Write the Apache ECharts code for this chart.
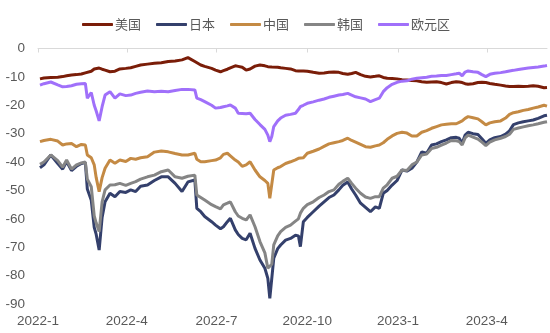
<!DOCTYPE html>
<html>
<head>
<meta charset="utf-8">
<script src="https://cdn.jsdelivr.net/npm/echarts@6/dist/echarts.min.js"></script>
<style>
  html, body { margin: 0; padding: 0; background: #fff; }
  #chart { width: 550px; height: 333px; }
</style>
</head>
<body>
<div id="chart"></div>
<script>
// Observation dates (roughly weekly, denser around sharp moves)
const dates = [
  '2022-01-03','2022-01-07','2022-01-14','2022-01-21','2022-01-26','2022-01-30','2022-02-04','2022-02-09',
  '2022-02-14','2022-02-18','2022-02-20','2022-02-24','2022-02-27','2022-03-01','2022-03-04','2022-03-07',
  '2022-03-10','2022-03-15','2022-03-20','2022-03-25','2022-03-31','2022-04-05','2022-04-10','2022-04-15',
  '2022-04-22','2022-04-29','2022-05-06','2022-05-13','2022-05-20','2022-05-27','2022-06-02','2022-06-09',
  '2022-06-11','2022-06-15','2022-06-19','2022-06-26','2022-06-30','2022-07-05','2022-07-08','2022-07-12',
  '2022-07-15','2022-07-20','2022-07-23','2022-07-27','2022-07-31','2022-08-04','2022-08-09','2022-08-14',
  '2022-08-19','2022-08-22','2022-08-24','2022-08-26','2022-08-28','2022-09-01','2022-09-04','2022-09-09',
  '2022-09-14','2022-09-19','2022-09-22','2022-09-24','2022-09-27','2022-10-01','2022-10-07','2022-10-13',
  '2022-10-18','2022-10-23','2022-10-28','2022-11-02','2022-11-06','2022-11-11','2022-11-15','2022-11-19',
  '2022-11-24','2022-11-29','2022-12-04','2022-12-09','2022-12-13','2022-12-17','2022-12-21','2022-12-26',
  '2022-12-31','2023-01-05','2023-01-10','2023-01-15','2023-01-20','2023-01-25','2023-01-30','2023-02-04',
  '2023-02-09','2023-02-14','2023-02-19','2023-02-24','2023-03-01','2023-03-04','2023-03-07','2023-03-10',
  '2023-03-13','2023-03-18','2023-03-23','2023-03-27','2023-03-31','2023-04-04','2023-04-09','2023-04-15',
  '2023-04-20','2023-04-24','2023-04-28','2023-05-03','2023-05-08','2023-05-13','2023-05-18','2023-05-23',
  '2023-05-29','2023-06-01'
];

const usa = [
  -10.7,-10.4,-10.2,-10.1,-9.9,-9.6,-9.3,-9.2,
  -9.0,-8.6,-8.4,-8.0,-7.2,-6.8,-6.9,-7.3,
  -7.6,-8.2,-8.0,-7.2,-7.0,-6.8,-6.3,-5.8,
  -5.5,-5.2,-5.0,-4.6,-4.4,-4.0,-3.2,-4.6,
  -5.0,-5.8,-6.3,-7.0,-7.6,-8.2,-7.8,-7.3,
  -6.8,-6.1,-6.3,-6.6,-7.6,-7.2,-6.2,-5.8,
  -6.1,-6.4,-6.4,-6.5,-6.4,-6.6,-6.8,-7.0,
  -7.2,-7.8,-7.9,-7.9,-7.9,-8.0,-8.4,-8.7,
  -8.6,-8.4,-8.3,-8.4,-8.8,-9.1,-8.8,-8.4,
  -9.2,-9.8,-10.0,-9.8,-9.6,-10.2,-10.5,-10.6,
  -10.7,-11.0,-11.1,-11.3,-11.4,-11.7,-11.9,-11.8,
  -11.7,-12.0,-12.5,-12.0,-11.7,-11.8,-12.0,-12.4,
  -12.6,-12.4,-12.0,-11.9,-12.0,-12.3,-12.6,-12.9,
  -13.2,-13.4,-13.4,-13.3,-13.4,-13.3,-13.1,-13.3,
  -13.8,-13.7
];

const japan = [
  -42.0,-41.0,-37.5,-40.5,-42.5,-39.8,-43.0,-41.5,
  -40.5,-40.2,-49.5,-53.5,-63.0,-65.5,-71.0,-59.5,
  -54.0,-51.0,-52.2,-50.4,-50.7,-49.8,-50.4,-48.5,
  -48.1,-46.5,-45.2,-45.2,-47.5,-50.4,-47.0,-46.3,
  -56.3,-57.5,-59.2,-61.0,-62.2,-63.5,-62.8,-61.0,
  -59.8,-63.9,-65.5,-66.9,-67.4,-65.1,-70.4,-74.5,
  -77.4,-81.0,-88.0,-87.5,-73.9,-70.5,-69.2,-67.5,
  -66.9,-65.8,-66.0,-69.8,-61.0,-59.5,-57.5,-55.5,
  -54.0,-52.5,-51.6,-49.8,-48.2,-47.0,-49.5,-51.6,
  -54.5,-56.0,-57.5,-55.8,-56.3,-51.0,-50.0,-48.1,
  -46.5,-42.8,-43.2,-42.2,-40.0,-36.4,-36.9,-34.0,
  -33.6,-32.8,-32.2,-31.4,-31.3,-31.6,-33.4,-30.5,
  -29.5,-30.0,-30.3,-31.8,-33.4,-32.2,-31.4,-31.0,
  -30.2,-29.0,-26.8,-26.2,-25.8,-25.5,-25.2,-24.6,
  -23.7,-23.5
];

const china = [
  -32.8,-32.4,-32.0,-32.6,-34.0,-33.6,-33.5,-34.6,
  -33.8,-34.0,-37.5,-38.5,-41.0,-45.5,-50.4,-45.5,
  -42.2,-39.3,-40.4,-39.3,-39.8,-38.7,-39.0,-38.5,
  -38.1,-36.5,-36.1,-36.4,-37.0,-37.5,-37.5,-36.9,
  -39.0,-39.9,-39.9,-39.5,-39.3,-38.5,-37.3,-36.9,
  -37.8,-39.3,-40.0,-41.5,-41.0,-39.9,-42.8,-45.2,
  -46.5,-47.5,-52.8,-52.5,-42.8,-42.0,-41.6,-40.5,
  -39.9,-39.2,-38.7,-39.0,-38.5,-36.9,-36.2,-35.4,
  -34.5,-33.6,-33.2,-32.8,-32.4,-31.6,-32.4,-33.0,
  -33.8,-34.6,-34.8,-34.3,-34.0,-33.2,-32.0,-30.8,
  -29.9,-29.5,-29.8,-30.8,-30.8,-29.5,-28.9,-28.1,
  -27.5,-26.9,-26.7,-26.5,-26.5,-26.0,-25.5,-24.6,
  -24.0,-24.4,-24.8,-25.8,-26.9,-26.2,-25.8,-25.5,
  -24.5,-23.2,-22.6,-22.3,-21.8,-21.5,-21.0,-20.6,
  -20.0,-20.3
];

const korea = [
  -40.8,-40.0,-37.5,-39.5,-41.8,-39.3,-42.5,-41.0,
  -40.3,-40.0,-46.0,-48.7,-59.0,-61.5,-64.5,-54.0,
  -49.8,-48.1,-48.0,-47.5,-48.2,-47.5,-46.9,-46.0,
  -45.2,-44.6,-43.4,-42.8,-45.2,-45.7,-45.0,-44.6,
  -51.6,-52.5,-53.4,-55.0,-55.7,-56.5,-55.1,-54.5,
  -54.0,-57.5,-59.0,-59.8,-60.4,-58.6,-62.8,-68.0,
  -72.0,-77.4,-77.4,-76.0,-69.2,-66.0,-64.5,-63.0,
  -62.2,-60.8,-60.0,-58.0,-56.3,-55.0,-54.0,-52.5,
  -51.6,-50.4,-49.8,-47.8,-46.8,-45.7,-47.5,-49.2,
  -51.0,-52.3,-52.8,-52.2,-52.2,-49.2,-48.0,-45.7,
  -45.0,-42.8,-43.0,-41.0,-40.0,-37.5,-37.2,-35.2,
  -34.8,-34.0,-33.3,-32.4,-32.5,-32.8,-34.0,-31.5,
  -30.5,-31.2,-31.9,-33.0,-34.2,-33.0,-32.2,-31.6,
  -31.0,-30.2,-28.5,-28.0,-27.6,-27.2,-26.9,-26.5,
  -26.0,-25.8
];

const euro = [
  -12.9,-12.4,-11.8,-12.8,-13.5,-13.4,-13.1,-12.6,
  -12.4,-12.3,-17.5,-15.5,-20.0,-22.0,-25.5,-20.5,
  -16.4,-15.2,-17.5,-16.0,-16.6,-16.4,-15.8,-15.4,
  -15.0,-15.2,-15.1,-15.2,-14.8,-14.4,-14.4,-14.6,
  -17.5,-18.0,-18.7,-20.0,-21.0,-20.8,-20.5,-20.2,
  -19.9,-21.0,-22.8,-22.9,-23.0,-22.8,-25.0,-26.8,
  -28.5,-30.5,-32.8,-31.0,-27.5,-25.5,-24.5,-23.5,
  -23.2,-22.8,-21.5,-20.5,-20.0,-19.3,-18.8,-18.2,
  -17.8,-17.2,-16.8,-16.4,-16.2,-15.8,-16.4,-17.0,
  -17.4,-17.8,-18.7,-18.0,-17.5,-15.2,-13.8,-12.6,
  -11.9,-11.5,-11.4,-10.8,-10.5,-10.3,-10.1,-9.8,
  -9.7,-9.5,-9.5,-9.2,-8.9,-8.7,-9.6,-8.3,
  -7.9,-8.2,-8.4,-9.2,-9.9,-9.1,-8.7,-8.5,
  -8.2,-7.9,-7.7,-7.4,-7.1,-6.9,-6.7,-6.5,
  -6.2,-6.0
];

// Quarterly tick marks on the date axis
const tickDates = ['2022-01-01','2022-04-01','2022-07-01','2022-10-01','2023-01-01','2023-04-01'];
const tickLabels = ['2022-1','2022-4','2022-7','2022-10','2023-1','2023-4'];

const seriesNames = ['美国','日本','中国','韩国','欧元区'];
const seriesData = [usa, japan, china, korea, euro];
const colors = ['#7a1d08','#34406c','#c48a44','#858585','#a070fa'];

// Dates are placed on a linear axis as UTC day timestamps
const ts = s => Date.parse(s + 'T00:00:00Z');
const tickTs = tickDates.map(ts);
const xMin = ts('2022-01-01');
const xMax = ts('2023-06-01');

function labelFor(v) {
  let best = 0, bd = Infinity;
  tickTs.forEach((t, i) => { const d = Math.abs(t - v); if (d < bd) { bd = d; best = i; } });
  return tickLabels[best];
}

const chart = echarts.init(document.getElementById('chart'), null, { renderer: 'canvas' });

const font = 'Liberation Sans, Arial, sans-serif';

chart.setOption({
  animation: false,
  color: colors,
  legend: {
    top: 13,
    left: 77,
    itemWidth: 31,
    itemHeight: 3,
    itemGap: 15,
    icon: 'roundRect',
    textStyle: { fontSize: 13, color: '#595959', fontFamily: 'Noto Sans CJK SC, sans-serif', padding: [0, 0, 0, -3] },
    data: seriesNames
  },
  grid: { left: 38, right: 3, top: 48.5, bottom: 29, containLabel: false },
  xAxis: [
    {
      type: 'value',
      min: xMin,
      max: xMax,
      position: 'bottom',
      axisLine: { show: false },
      axisTick: { show: false },
      splitLine: { show: false },
      axisLabel: {
        customValues: tickTs,
        formatter: v => labelFor(v),
        fontSize: 13.5,
        color: '#595959',
        fontFamily: font,
        margin: 10
      }
    },
    {
      type: 'value',
      min: xMin,
      max: xMax,
      position: 'top',
      axisLine: { show: true, onZero: false, lineStyle: { color: '#d9d9d9', width: 1 } },
      axisTick: { show: true, inside: true, length: 4, customValues: tickTs, lineStyle: { color: '#d9d9d9' } },
      axisLabel: { show: false },
      splitLine: { show: false }
    }
  ],
  yAxis: {
    type: 'value',
    min: -90,
    max: 0,
    interval: 10,
    axisLine: { show: false },
    axisTick: { show: false },
    splitLine: { show: false },
    axisLabel: { fontSize: 13.5, color: '#595959', fontFamily: font, margin: 13 }
  },
  series: seriesNames.map((name, i) => ({
    name,
    type: 'line',
    xAxisIndex: 0,
    showSymbol: false,
    symbol: 'none',
    lineStyle: { width: 3, color: colors[i] },
    itemStyle: { color: colors[i] },
    data: dates.map((d, k) => [ts(d), seriesData[i][k]])
  }))
});
</script>
</body>
</html>
